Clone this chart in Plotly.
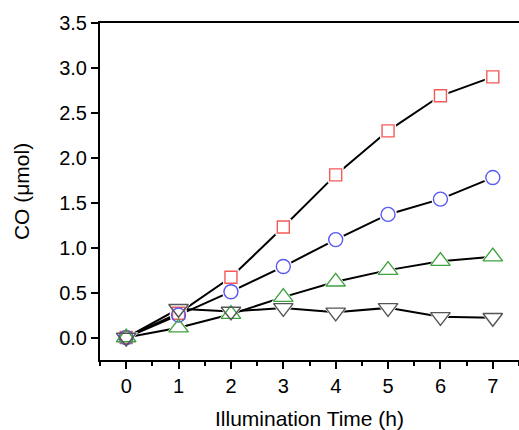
import plotly.graph_objects as go

time_h = [0, 1, 2, 3, 4, 5, 6, 7]
series_red = [0.0, 0.27, 0.67, 1.23, 1.81, 2.30, 2.69, 2.90]
series_blue = [0.0, 0.25, 0.51, 0.79, 1.09, 1.37, 1.54, 1.78]
series_green = [0.0, 0.11, 0.26, 0.45, 0.62, 0.75, 0.85, 0.90]
series_gray = [0.0, 0.32, 0.29, 0.33, 0.28, 0.33, 0.23, 0.22]

specs = [
    (series_red, "square-open", "#f55a5a", 12),
    (series_blue, "circle-open", "#5858f2", 14),
    (series_green, "triangle-up-open", "#3fa33f", 17),
    (series_gray, "triangle-down-open", "#555555", 17),
]

fig = go.Figure()
for vals, sym, col, sz in specs:
    fig.add_trace(go.Scatter(x=time_h, y=vals, mode="lines",
                             line=dict(color="black", width=2), showlegend=False,
                             hoverinfo="skip"))
for vals, sym, col, sz in specs:
    fig.add_trace(go.Scatter(x=time_h, y=vals, mode="markers",
                             marker=dict(symbol=sym.replace("-open", ""), size=sz + 4,
                                         color="white", line=dict(width=0)),
                             showlegend=False, hoverinfo="skip"))
for vals, sym, col, sz in specs:
    fig.add_trace(go.Scatter(x=time_h, y=vals, mode="markers",
                             marker=dict(symbol=sym, size=sz, color=col,
                                         line=dict(width=1.4, color=col)),
                             showlegend=False))

font_family = "Arial, Liberation Sans, sans-serif"
fig.update_layout(
    width=519, height=430,
    margin=dict(l=100, r=0, t=23, b=68),
    paper_bgcolor="white", plot_bgcolor="white",
    font=dict(family=font_family, size=20, color="black"),
    xaxis=dict(range=[-0.5, 7.5], tickmode="array", tickvals=time_h,
               ticks="outside", ticklen=7, tickwidth=1.5, tickcolor="black",
               showline=True, linewidth=2, linecolor="black", mirror=True,
               showgrid=False, zeroline=False,
               minor=dict(dtick=0.5, tick0=0, ticks="outside", ticklen=4,
                          tickwidth=1.5, tickcolor="black", showgrid=False),
               title=dict(text="Illumination Time (h)", standoff=18,
                          font=dict(size=21)),
               tickfont=dict(size=20)),
    yaxis=dict(range=[-0.25, 3.5], tickmode="array",
               tickvals=[0, 0.5, 1.0, 1.5, 2.0, 2.5, 3.0, 3.5],
               ticktext=["0.0", "0.5", "1.0", "1.5", "2.0", "2.5", "3.0", "3.5"],
               ticks="outside", ticklen=7, tickwidth=1.5, tickcolor="black",
               showline=True, linewidth=2, linecolor="black",
               showgrid=False, zeroline=False,
               title=dict(text="CO (μmol)", standoff=24, font=dict(size=21)),
               tickfont=dict(size=20)),
)

fig.write_html("out.html")
